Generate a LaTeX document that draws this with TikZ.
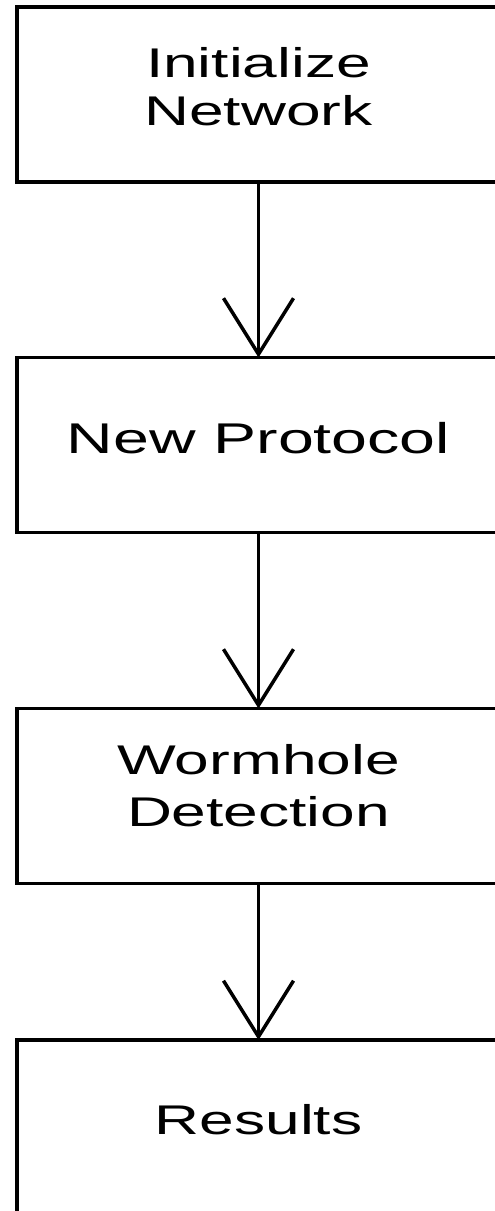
\documentclass[tikz,border=0pt]{standalone}
\usepackage{fontspec}
\setmainfont{Liberation Sans}
\usetikzlibrary{arrows.meta}
\tikzset{
  flowbox/.style={draw=black, line width=3.8pt, minimum width=483pt, minimum height=175pt, inner sep=0pt, outer sep=0pt, align=center, font=\fontsize{41.5}{50}\selectfont},
  flowarrow/.style={line width=3.5pt, -{Straight Barb[length=56pt, width=70pt, line width=3.5pt]}}
}
\newcommand{\wide}[1]{\scalebox{1.5}[1]{\begin{tabular}{@{}c@{}}#1\end{tabular}}}
\begin{document}
\begin{tikzpicture}[x=1pt,y=-1pt]
\useasboundingbox (0,0) rectangle (495,1211);
\clip (0,0) rectangle (495,1211);
\fill[white] (0,0) rectangle (495,1211);
\node[flowbox] (b1) at (258.5,94.5) {};
\node[font=\fontsize{41.5}{48}\selectfont] (t1) at (258.5,91.5) {\wide{Initialize\\Network}};
\node[flowbox] (b2) at (258.5,445) {};
\node[font=\fontsize{43}{50}\selectfont] (t2) at (258.5,443) {\wide{New Protocol}};
\node[flowbox] (b3) at (258.5,796) {};
\node[font=\fontsize{41.5}{52}\selectfont] (t3) at (258.5,790) {\wide{Wormhole\\Detection}};
\node[flowbox] (b4) at (258.5,1127.5) {};
\node[font=\fontsize{41.5}{50}\selectfont] (t4) at (258.5,1124) {\wide{Results}};
\draw[flowarrow] (b1.south) -- (b2.north);
\draw[flowarrow] (b2.south) -- (b3.north);
\draw[flowarrow] (b3.south) -- (b4.north);
\end{tikzpicture}
\end{document}
